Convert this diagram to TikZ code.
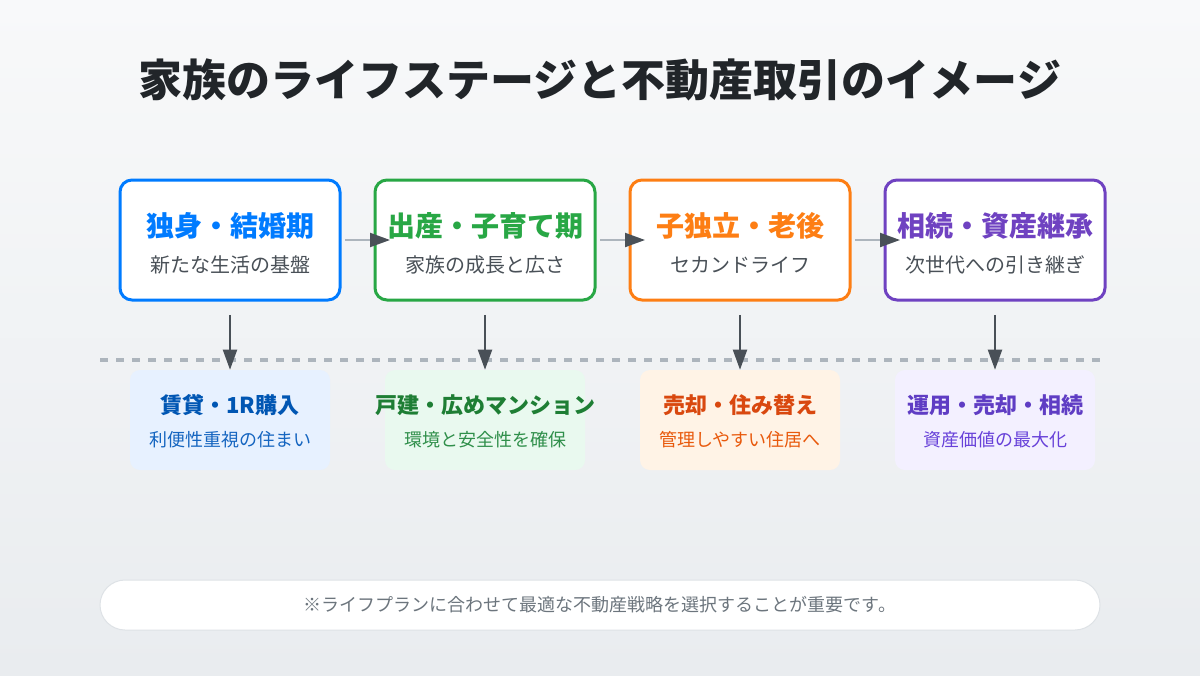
\documentclass[tikz,border=0pt]{standalone}
\usepackage{fontspec}
\setmainfont{Noto Sans CJK JP}
\usetikzlibrary{arrows.meta}
\definecolor{bgtop}{HTML}{F8F9FA}
\definecolor{bgbottom}{HTML}{E9ECEF}
\definecolor{textdark}{HTML}{212529}
\definecolor{textgray}{HTML}{495057}
\definecolor{notegray}{HTML}{6C757D}
\definecolor{linegray}{HTML}{ADB5BD}
\definecolor{noteline}{HTML}{DEE2E6}
\definecolor{stageblue}{HTML}{007BFF}
\definecolor{stagegreen}{HTML}{28A745}
\definecolor{stageorange}{HTML}{FD7E14}
\definecolor{stagepurple}{HTML}{6F42C1}
\definecolor{dealblue}{HTML}{0056B3}
\definecolor{dealgreen}{HTML}{1E7E34}
\definecolor{dealorange}{HTML}{D9480F}
\definecolor{dealpurple}{HTML}{5F3DC4}
\definecolor{noteblue}{HTML}{1565C0}
\definecolor{notegreen}{HTML}{2F8F4A}
\definecolor{noteorange}{HTML}{E8590C}
\definecolor{notepurple}{HTML}{6741D9}
\definecolor{fillblue}{HTML}{E7F1FF}
\definecolor{fillgreen}{HTML}{E9F9EF}
\definecolor{fillorange}{HTML}{FFF3E6}
\definecolor{fillpurple}{HTML}{F3F0FF}
\tikzset{
    stagebox/.style={draw=#1,fill=white,line width=2.25pt,rounded corners=9pt,
        minimum width=165pt,minimum height=90pt,inner sep=0pt},
    dealbox/.style={fill=#1,rounded corners=7.5pt,
        minimum width=150pt,minimum height=75pt,inner sep=0pt},
    stagetitle/.style={text=#1,font=\fontsize{21pt}{25pt}\selectfont\bfseries,inner sep=0pt},
    stagetext/.style={text=textgray,font=\fontsize{15pt}{18pt}\selectfont,inner sep=0pt},
    dealtitle/.style={text=#1,font=\fontsize{16.5pt}{20pt}\selectfont\bfseries,inner sep=0pt},
    dealtext/.style={text=#1,font=\fontsize{13.5pt}{16pt}\selectfont,inner sep=0pt},
    nexttip/.style={linegray,line width=1.5pt,
        -{Triangle[length=15pt,width=10.5pt,color=textgray]}},
    downtip/.style={textgray,line width=1.5pt,
        -{Triangle[length=15pt,width=10.5pt]}},
}
\begin{document}
\begin{tikzpicture}[x=0.75pt,y=-0.75pt]
    \shade[top color=bgtop,bottom color=bgbottom] (0,0) rectangle (1200,675);
    \useasboundingbox (0,0) rectangle (1200,675);

    \node[text=textdark,font=\fontsize{33pt}{40pt}\selectfont\bfseries,inner sep=0pt] (title) at (600,80) {家族のライフステージと不動産取引のイメージ};

    % dashed divider
    \draw[linegray,line width=3pt,dash pattern=on 6pt off 6pt] (100,360) -- (1100,360);

    % life stages
    \node[stagebox=stageblue] (stageone) at (230,240) {};
    \node[stagetitle=stageblue] (stageonetitle) at (230,226) {独身・結婚期};
    \node[stagetext] (stageonetext) at (230,265) {新たな生活の基盤};

    \node[stagebox=stagegreen] (stagetwo) at (485,240) {};
    \node[stagetitle=stagegreen] (stagetwotitle) at (485,226) {出産・子育て期};
    \node[stagetext] (stagetwotext) at (485,265) {家族の成長と広さ};

    \node[stagebox=stageorange] (stagethree) at (740,240) {};
    \node[stagetitle=stageorange] (stagethreetitle) at (740,226) {子独立・老後};
    \node[stagetext] (stagethreetext) at (740,265) {セカンドライフ};

    \node[stagebox=stagepurple] (stagefour) at (995,240) {};
    \node[stagetitle=stagepurple] (stagefourtitle) at (995,226) {相続・資産継承};
    \node[stagetext] (stagefourtext) at (995,265) {次世代への引き継ぎ};

    % property deals
    \node[dealbox=fillblue] (dealone) at (230,420) {};
    \node[dealtitle=dealblue] (dealonetitle) at (230,405) {賃貸・1R購入};
    \node[dealtext=noteblue] (dealonetext) at (230,440) {利便性重視の住まい};

    \node[dealbox=fillgreen] (dealtwo) at (485,420) {};
    \node[dealtitle=dealgreen] (dealtwotitle) at (485,405) {戸建・広めマンション};
    \node[dealtext=notegreen] (dealtwotext) at (485,440) {環境と安全性を確保};

    \node[dealbox=fillorange] (dealthree) at (740,420) {};
    \node[dealtitle=dealorange] (dealthreetitle) at (740,405) {売却・住み替え};
    \node[dealtext=noteorange] (dealthreetext) at (740,440) {管理しやすい住居へ};

    \node[dealbox=fillpurple] (dealfour) at (995,420) {};
    \node[dealtitle=dealpurple] (dealfourtitle) at (995,405) {運用・売却・相続};
    \node[dealtext=notepurple] (dealfourtext) at (995,440) {資産価値の最大化};

    % arrows
    \draw[nexttip,shorten <=2.6pt,shorten >=-12.4pt] (stageone.east) -- (stagetwo.west);
    \draw[nexttip,shorten <=2.6pt,shorten >=-12.4pt] (stagetwo.east) -- (stagethree.west);
    \draw[nexttip,shorten <=2.6pt,shorten >=-12.4pt] (stagethree.east) -- (stagefour.west);

    \draw[downtip,shorten <=10.1pt] (stageone.south) -- (dealone.north);
    \draw[downtip,shorten <=10.1pt] (stagetwo.south) -- (dealtwo.north);
    \draw[downtip,shorten <=10.1pt] (stagethree.south) -- (dealthree.north);
    \draw[downtip,shorten <=10.1pt] (stagefour.south) -- (dealfour.north);

    % footer note
    \node[draw=noteline,fill=white,line width=0.75pt,rounded corners=18.75pt,
        minimum width=750pt,minimum height=37.5pt,inner sep=0pt] (notebox) at (600,605) {};
    \node[text=notegray,font=\fontsize{13.5pt}{16pt}\selectfont,inner sep=0pt] (notetext) at (600,605) {※ライフプランに合わせて最適な不動産戦略を選択することが重要です。};
\end{tikzpicture}
\end{document}
